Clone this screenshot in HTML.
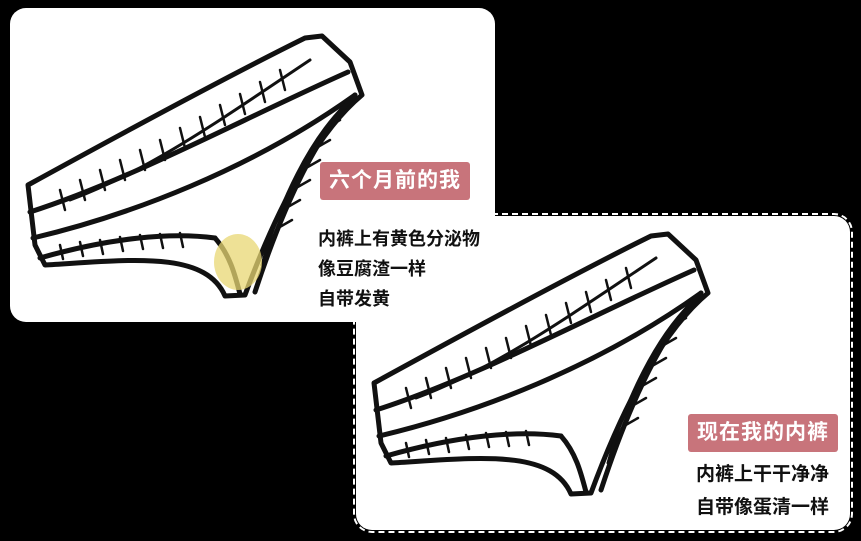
<!DOCTYPE html>
<html><head><meta charset="utf-8"><style>
body{margin:0;background:#000;width:861px;height:541px;overflow:hidden;position:relative;font-family:"Liberation Sans","Noto Sans CJK SC",sans-serif}
.p1{position:absolute;left:10px;top:8px;width:485px;height:314px;background:#fff;border-radius:16px}
.p2{position:absolute;left:356px;top:216px;width:494px;height:314px;background:#fff;border-radius:16px;outline:2px dashed #fff;outline-offset:1px}
.lab{position:absolute;background:#c8747b;color:#fff;font-size:21px;font-weight:bold;padding:0 9px;line-height:38px;border-radius:3px;letter-spacing:1px}
.t{position:absolute;font-size:18px;font-weight:bold;color:#111;text-shadow:1px 1px 0 #fff,-1px -1px 0 #fff,1px -1px 0 #fff,-1px 1px 0 #fff;letter-spacing:0}
svg{position:absolute;left:0;top:0}
</style></head><body>
<div class="p1"></div><div class="p2"></div>
<svg width="861" height="541">
<defs><g id="u" fill="none" stroke="#111" stroke-width="5" stroke-linejoin="round" stroke-linecap="round">
<path d="M28,185 C110,140 220,80 305,38 L322,36 L350,62 L362,95 C320,130 280,200 245,295 L225,296 C205,250 130,260 45,265 L35,245 Z" fill="#fff"/>
<path d="M30,212 C130,180 240,120 348,72"/>
<path d="M33,238 C130,215 250,170 355,95"/>
<path d="M40,258 C110,238 170,232 215,238"/>
<path d="M215,238 C230,255 235,275 240,294"/>
<path d="M355,95 C320,130 285,200 255,292"/>
<path d="M345,105 C310,140 280,200 262,265" stroke-width="3"/>
<path d="M70,200 C150,170 220,120 310,60" stroke-width="3"/>
<g stroke-width="2.5">
<path d="M60,190 l5,20 M80,180 l5,20 M100,170 l5,20 M120,160 l5,20 M140,150 l5,20 M160,140 l5,20 M180,128 l5,20 M200,117 l5,20 M220,105 l5,20 M240,94 l5,20 M260,82 l5,20 M280,70 l5,20"/>
<path d="M60,245 l3,14 M80,242 l3,14 M100,240 l3,14 M120,237 l3,14 M140,235 l3,14 M160,234 l3,14 M180,233 l3,14"/>
<path d="M340,120 l-14,8 M330,140 l-14,8 M320,160 l-14,8 M310,180 l-14,8 M300,200 l-14,8 M292,220 l-14,8"/>
</g></g></defs>
<use href="#u"/>
<ellipse cx="238" cy="262" rx="24" ry="28" fill="#e8d773" opacity="0.75"/>
<use href="#u" transform="translate(346,198)"/>
</svg>
<div class="lab" style="left:320px;top:162px">六个月前的我</div>
<div class="t" style="left:318px;top:225px">内裤上有黄色分泌物</div>
<div class="t" style="left:318px;top:255px">像豆腐渣一样</div>
<div class="t" style="left:318px;top:285px">自带发黄</div>
<div class="lab" style="left:688px;top:414px">现在我的内裤</div>
<div class="t" style="left:696px;top:459px;font-size:19px">内裤上干干净净</div>
<div class="t" style="left:696px;top:492px;font-size:19px">自带像蛋清一样</div>
</body></html>
